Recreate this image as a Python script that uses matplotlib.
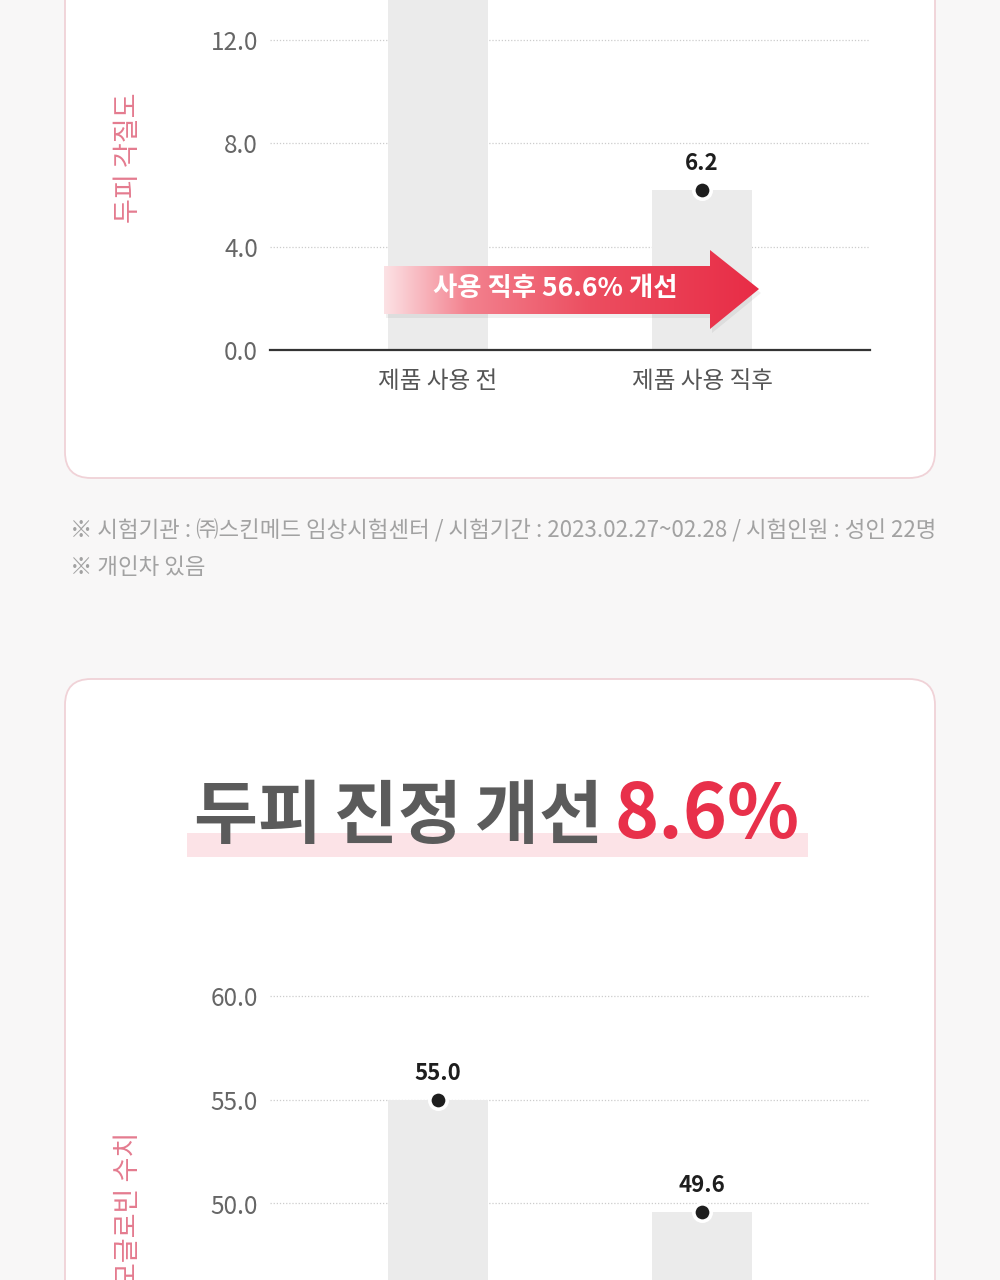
import numpy as np
import matplotlib
matplotlib.use("Agg")
import matplotlib.pyplot as plt
from matplotlib.patches import FancyBboxPatch, Polygon, Rectangle

plt.rcParams['font.family'] = ['Noto Sans CJK KR', 'DejaVu Sans']

# ---------------- data ----------------
categories = ["제품 사용 전", "제품 사용 직후"]
keratin_values = [14.3, 6.2]
keratin_ticks = [0.0, 4.0, 8.0, 12.0]
keratin_label = "두피 각질도"
arrow_text = "사용 직후 56.6% 개선"

footnote_lines = ["※ 시험기관 : ㈜스킨메드 임상시험센터 / 시험기간 : 2023.02.27~02.28 / 시험인원 : 성인 22명",
                  "※ 개인차 있음"]

title_main = "두피 진정 개선"
title_pct = "8.6%"
hemo_values = [55.0, 49.6]
hemo_ticks = [50.0, 55.0, 60.0]
hemo_label = "헤모글로빈 수치"

# ---------------- styles ----------------
BG = "#f8f7f7"
PANEL_EDGE = "#f0d2d7"
BAR = "#ebebeb"
GRID = "#cccccc"
TICK = "#666666"
CAT = "#555555"
PINK = "#e47b8f"
RED = "#e8304a"
W, H = 1000, 1280

fig = plt.figure(figsize=(W / 100, H / 100), dpi=100)
fig.patch.set_facecolor(BG)
renderer = fig.canvas.get_renderer()

def fx(px):
    return px / W

def fy(py):
    return 1 - py / H

# background overlay in pixel coordinates
bg = fig.add_axes([0, 0, 1, 1])
bg.set_xlim(0, W)
bg.set_ylim(H, 0)
bg.axis("off")
bg.set_facecolor("none")

for (y0, y1) in [(-60, 478), (679, 1340)]:
    bg.add_patch(FancyBboxPatch((65, y0), 870, y1 - y0,
                                boxstyle="round,pad=0,rounding_size=26",
                                fc="white", ec=PANEL_EDGE, lw=1.3, zorder=1))

# footnotes
bg.text(70, 531, footnote_lines[0], fontsize=16.1, color="#a2a2a2", va="center", ha="left")
bg.text(70, 568, footnote_lines[1], fontsize=16.1, color="#a2a2a2", va="center", ha="left")

# title with highlight band, drawn glyph by glyph
bg.add_patch(Rectangle((187, 833), 621, 24, fc="#fce3e7", ec="none", zorder=2))


def glyph_run(ax, x0, y, s, gap, space, **kw):
    x = x0
    for ch in s:
        if ch == " ":
            x += space
            continue
        t = ax.text(x, y, ch, ha="left", **kw)
        x += t.get_window_extent(renderer).width + gap
    return x

TITLE_BASE = 838
xe = glyph_run(bg, 193, TITLE_BASE, title_main, 0, 13, fontsize=50, fontweight="bold",
               color="#5b5b5b", va="baseline", zorder=3)
bg.text(xe + 12, TITLE_BASE, title_pct, fontsize=54, fontweight="bold", color=RED,
        ha="left", va="baseline", zorder=3)

# axis labels (vertical)
bg.text(128, 158, keratin_label, rotation=90, fontsize=19.5, color=PINK,
        ha="center", va="center", zorder=3)
bg.text(128, 1132, hemo_label, rotation=90, fontsize=19.5, color=PINK,
        ha="center", va="top", zorder=3)


def make_chart(ax, values, ticks, ylim):
    x = np.arange(len(values))
    ax.set_facecolor("none")
    ax.set_xlim(-168 / 264, -168 / 264 + 600 / 264)
    ax.set_ylim(*ylim)
    ax.bar(x, values, width=100 / 264, color=BAR, zorder=2)
    ax.plot(x, values, "o", ms=12.5, mfc="#1e1e1e", mec="white", mew=2.6,
            zorder=5, clip_on=False)
    for xi, v in zip(x, values):
        ax.annotate(f"{v:.1f}", (xi, v), xytext=(0, 19), textcoords="offset points",
                    ha="center", va="center", fontsize=16, color="#1e1e1e",
                    fontweight="bold", zorder=6, annotation_clip=True)
    ax.set_yticks(ticks)
    ax.set_yticklabels([f"{t:.1f}" for t in ticks], fontsize=17.5, color=TICK)
    ax.tick_params(axis="y", length=0, pad=8.5)
    ax.yaxis.grid(True, linestyle=(0, (1, 1.5)), color=GRID, lw=0.9, zorder=0)
    ax.set_axisbelow(True)
    for s in ["top", "right", "left"]:
        ax.spines[s].set_visible(False)
    return x

# chart 1: keratin
px_per_unit1 = (350 - 40) / 12.0
ax1 = fig.add_axes([fx(270), fy(350), 0.6, 350 / H])
x1 = make_chart(ax1, keratin_values, keratin_ticks, (0, 350 / px_per_unit1))
ax1.spines["bottom"].set_color("#333333")
ax1.spines["bottom"].set_linewidth(1.6)
ax1.set_xticks(x1)
ax1.set_xticklabels(categories, fontsize=17, color=CAT)
ax1.tick_params(axis="x", length=0, pad=14.5)

# chart 2: hemoglobin
px_per_unit2 = (1203.5 - 996) / 10.0
top_px = 930
ax2 = fig.add_axes([fx(270), 0, 0.6, (H - top_px) / H])
y_lo = 50.0 - (H - 1203.5) / px_per_unit2
y_hi = 60.0 + (996 - top_px) / px_per_unit2
x2 = make_chart(ax2, hemo_values, hemo_ticks, (y_lo, y_hi))
ax2.spines["bottom"].set_visible(False)
ax2.set_xticks([])

# arrow overlay (on top of chart 1)
ov = fig.add_axes([0, 0, 1, 1])
ov.set_xlim(0, W)
ov.set_ylim(H, 0)
ov.axis("off")
ov.set_facecolor("none")
arrow_pts = [(384, 266), (710, 266), (710, 250), (759, 289), (710, 329), (710, 314), (384, 314)]
shadow = Polygon([(px + 2, py + 4) for px, py in arrow_pts], closed=True,
                 fc="#000000", alpha=0.06, ec="none")
ov.add_patch(shadow)
poly = Polygon(arrow_pts, closed=True, fc="none", ec="none")
ov.add_patch(poly)
stops = np.array([0.0, 0.22, 0.55, 1.0])
cols = np.array([[252, 226, 229], [243, 130, 143], [236, 78, 96], [232, 44, 70]]) / 255
t = np.linspace(0, 1, 400)
grad = np.stack([np.interp(t, stops, cols[:, i]) for i in range(3)], axis=-1)[None, :, :]
im = ov.imshow(grad, extent=(384, 759, 329, 250), aspect="auto", zorder=3)
im.set_clip_path(poly)
ov.text(555, 289, arrow_text, fontsize=19, fontweight="bold", color="white",
        ha="center", va="center", zorder=4)

fig.savefig("out.png", dpi=100, facecolor=BG)
